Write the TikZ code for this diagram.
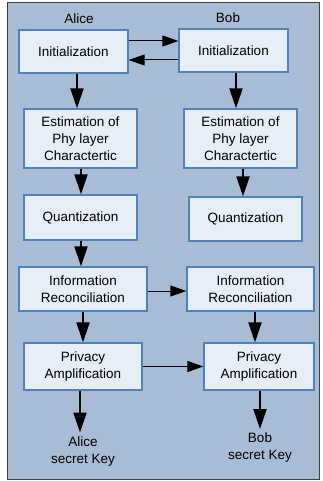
\documentclass[tikz,border=0pt]{standalone}
\usepackage{fontspec}
\setmainfont{Liberation Sans}
\usetikzlibrary{arrows.meta}

\definecolor{panelblue}{HTML}{A9BCD6}
\definecolor{boxfill}{HTML}{E7EEF7}
\definecolor{boxline}{HTML}{4F81BD}
\definecolor{frameline}{HTML}{404040}

\tikzset{
  stage/.style={draw=boxline, line width=1.3pt, fill=boxfill, align=center,
    inner sep=0pt, font=\fontsize{13.5}{17}\selectfont},
  party/.style={font=\fontsize{13.5}{17}\selectfont},
  keylabel/.style={align=center, inner xsep=0pt, inner ysep=4pt,
    font=\fontsize{13.5}{17}\selectfont},
  flow/.style={-{Triangle[length=20pt,width=13pt]}, line width=2pt},
  xchg/.style={-{Triangle[length=16pt,width=11pt]}, line width=1pt}
}

\begin{document}
\begin{tikzpicture}[x=1pt,y=-1pt]

    % panel
    \useasboundingbox (0,0) rectangle (323,481);
    \draw[frameline, line width=1pt, fill=panelblue] (7,3) rectangle (319,479);

    % parties
    \node[party] (alice) at (79,19) {Alice};
    \node[party] (bob) at (228,18) {Bob};

    % Alice side
    \node[stage, minimum width=109, minimum height=43] (ai) at (73.5,51.5) {Initialization};
    \node[stage, minimum width=113, minimum height=59] (ae) at (80.5,138.5) {Estimation of\\Phy layer\\Charactertic};
    \node[stage, minimum width=113, minimum height=45] (aq) at (80.5,217.5) {Quantization};
    \node[stage, minimum width=128, minimum height=44] (ar) at (83,289) {Information\\Reconciliation};
    \node[stage, minimum width=118, minimum height=47] (ap) at (83,366.5) {Privacy\\Amplification};
    \node[keylabel] (ak) at (83,451.5) {Alice\\secret Key};

    % Bob side
    \node[stage, minimum width=109, minimum height=43] (bi) at (233.5,50.5) {Initialization};
    \node[stage, minimum width=113, minimum height=59] (be) at (240.5,138.5) {Estimation of\\Phy layer\\Charactertic};
    \node[stage, minimum width=113, minimum height=44] (bq) at (245.5,219) {Quantization};
    \node[stage, minimum width=127, minimum height=44] (br) at (250.5,289) {Information\\Reconciliation};
    \node[stage, minimum width=110, minimum height=47] (bp) at (259,366.5) {Privacy\\Amplification};
    \node[keylabel] (bk) at (260,448) {Bob\\secret Key};

    % exchanges
    \draw[xchg] ([yshift=10.5pt]ai.east) -- ([yshift=9.5pt]bi.west); % init Alice -> Bob
    \draw[xchg] ([yshift=-9.5pt]bi.west) -- ([yshift=-8.5pt]ai.east); % init Bob -> Alice
    \draw[xchg] ([yshift=-2pt]ar.east) -- ([yshift=-2pt]br.west); % reconciliation
    \draw[xchg] (ap.east) -- (bp.west); % amplification

    % Alice flow
    \draw[flow] ([xshift=3.5pt]ai.south) -- ([xshift=-3.5pt]ae.north);
    \draw[flow] ([xshift=0.5pt]ae.south) -- ([xshift=0.5pt]aq.north);
    \draw[flow] ([xshift=0.5pt]aq.south) -- ([xshift=-2pt]ar.north);
    \draw[flow] (ar.south) -- (ap.north);
    \draw[flow] ([xshift=-3pt]ap.south) -- ([xshift=-3pt]ak.north);

    % Bob flow
    \draw[flow] ([xshift=2.5pt]bi.south) -- ([xshift=-4.5pt]be.north);
    \draw[flow] ([xshift=2.5pt]be.south) -- ([xshift=-2.5pt]bq.north);
    \draw[flow] ([xshift=4.5pt]br.south) -- ([xshift=-4pt]bp.north);
    \draw[flow] ([xshift=1pt]bp.south) -- (bk.north);

\end{tikzpicture}
\end{document}
